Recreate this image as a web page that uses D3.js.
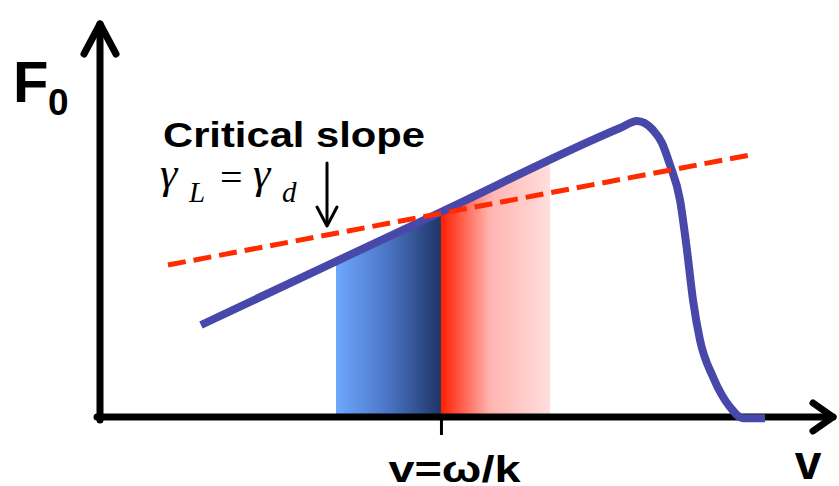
<!DOCTYPE html>
<html><head><meta charset="utf-8">
<script src="https://cdn.jsdelivr.net/npm/d3@7/dist/d3.min.js"></script>
<style>html,body{margin:0;padding:0;background:#fff;}svg{display:block;}</style>
</head><body>
<svg id="chart" width="839" height="486"></svg>
<script>
// distribution F0(v) (arbitrary units)
const curveV = [1.374, 4.639, 7.075, 7.306, 7.524, 7.646, 7.755, 7.891, 7.986, 8.068, 8.163, 8.340, 8.571, 8.748, 9.048];
const curveF = [2.329, 5.190, 7.316, 7.494, 7.266, 6.937, 6.380, 5.494, 4.228, 2.962, 1.949, 1.013, 0.253, -0.03, -0.03];
// critical-slope (tangent) dashed line
const tangentV = [0.925, 8.844];
const tangentF = [3.848, 6.633];
// shaded bands: [start, phase velocity, end]
const bandV = [3.211, 4.639, 6.122];
const tickValues = [4.639];
const tickLabels = ["v=ω/k"];

const svg = d3.select("#chart");
const x = d3.scaleLinear().domain([0, 10]).range([100, 835]);
const y = d3.scaleLinear().domain([0, 10]).range([417, 22]);

const defs = svg.append("defs");
const gb = defs.append("linearGradient").attr("id", "gBlue").attr("x1", "0").attr("x2", "1").attr("y1", "0").attr("y2", "0");
gb.append("stop").attr("offset", "0").attr("stop-color", "#6ea8ff");
gb.append("stop").attr("offset", "0.5").attr("stop-color", "#4a74c4");
gb.append("stop").attr("offset", "1").attr("stop-color", "#1e3566");
const gr = defs.append("linearGradient").attr("id", "gRed").attr("x1", "0").attr("x2", "1").attr("y1", "0").attr("y2", "0");
gr.append("stop").attr("offset", "0").attr("stop-color", "#ff1e00");
gr.append("stop").attr("offset", "0.45").attr("stop-color", "#ffb4b0");
gr.append("stop").attr("offset", "1").attr("stop-color", "#ffdedc");

const pts = curveV.map((v, i) => [v, curveF[i]]);
const area = d3.area().x(d => x(d[0])).y0(y(0)).y1(d => y(d[1])).curve(d3.curveMonotoneX);
defs.append("clipPath").attr("id", "under").append("path").attr("d", area(pts));

const bands = svg.append("g").attr("clip-path", "url(#under)");
bands.append("rect").attr("x", x(bandV[0])).attr("width", x(bandV[1]) - x(bandV[0]))
  .attr("y", y(10)).attr("height", y(0) - y(10)).attr("fill", "url(#gBlue)");
bands.append("rect").attr("x", x(bandV[1])).attr("width", x(bandV[2]) - x(bandV[1]))
  .attr("y", y(10)).attr("height", y(0) - y(10)).attr("fill", "url(#gRed)");

// x-axis tick and label
const ax = svg.append("g").attr("transform", `translate(0,${y(0)})`)
  .call(d3.axisBottom(x).tickValues(tickValues).tickSize(18).tickFormat((d, i) => tickLabels[i]));
ax.select(".domain").remove();
ax.selectAll(".tick line").attr("stroke", "#000").attr("stroke-width", 3);
ax.selectAll(".tick text").attr("fill", "#000").style("font-family", "'Liberation Sans', Arial, sans-serif")
  .style("font-weight", "bold").style("font-size", "36px").attr("textLength", 132).attr("lengthAdjust", "spacingAndGlyphs")
  .attr("x", 13).attr("y", 65).attr("dy", 0);

// axes with arrows
const axisG = svg.append("g").attr("fill", "none").attr("stroke", "#000").attr("stroke-width", 7)
  .attr("stroke-linecap", "round").attr("stroke-linejoin", "round");
axisG.append("line").attr("x1", x(0)).attr("x2", x(0)).attr("y1", y(0) + 3).attr("y2", y(10) + 2);
axisG.append("polyline").attr("points", `${x(0) - 16},${y(10) + 32} ${x(0)},${y(10) + 2} ${x(0) + 16},${y(10) + 32}`);
axisG.append("line").attr("x1", x(0) - 3).attr("x2", x(10) - 2).attr("y1", y(0)).attr("y2", y(0));
axisG.append("polyline").attr("points", `${x(10) - 22},${y(0) - 14} ${x(10) - 2},${y(0)} ${x(10) - 22},${y(0) + 14}`);

// distribution curve
const line = d3.line().x(d => x(d[0])).y(d => y(d[1])).curve(d3.curveMonotoneX);
svg.append("path").attr("d", line(pts)).attr("fill", "none").attr("stroke", "#4848aa")
  .attr("stroke-width", 8).attr("stroke-linejoin", "round");

// tangent dashed
const tpts = tangentV.map((v, i) => [v, tangentF[i]]);
svg.append("path").attr("d", d3.line().x(d => x(d[0])).y(d => y(d[1]))(tpts))
  .attr("fill", "none").attr("stroke", "#ff2a00").attr("stroke-width", 5).attr("stroke-dasharray", "18,8");

// labels
const sans = "'Liberation Sans', Arial, sans-serif";
const serif = "'Liberation Serif', 'Times New Roman', serif";
svg.append("text").attr("x", 13).attr("y", 102).text("F").style("font-family", sans).style("font-weight", "bold").style("font-size", "58px");
svg.append("text").attr("x", 48).attr("y", 115).text("0").style("font-family", sans).style("font-weight", "bold").style("font-size", "37px");
svg.append("text").attr("x", 163).attr("y", 147).text("Critical slope").style("font-family", sans).style("font-weight", "bold")
  .style("font-size", "35px").attr("textLength", 262).attr("lengthAdjust", "spacingAndGlyphs");
svg.append("text").attr("x", 808).attr("y", 479).attr("text-anchor", "middle").text("v").style("font-family", sans)
  .style("font-weight", "bold").style("font-size", "48px");

const gam = svg.append("g").style("font-family", serif).style("font-style", "italic");
gam.append("text").attr("x", 160).attr("y", 188).text("γ").style("font-size", "44px");
gam.append("text").attr("x", 189).attr("y", 202).text("L").style("font-size", "29px");
gam.append("text").attr("x", 220).attr("y", 191).text("=").style("font-style", "normal").style("font-size", "40px");
gam.append("text").attr("x", 253).attr("y", 188).text("γ").style("font-size", "44px");
gam.append("text").attr("x", 282).attr("y", 202).text("d").style("font-size", "29px");

// small down arrow
const arr = svg.append("g").attr("fill", "none").attr("stroke", "#000").attr("stroke-width", 3)
  .attr("stroke-linecap", "round").attr("stroke-linejoin", "round");
arr.append("line").attr("x1", 327).attr("x2", 327).attr("y1", 163).attr("y2", 225);
arr.append("polyline").attr("points", "317,207 327,226 337,207");
</script>
</body></html>
